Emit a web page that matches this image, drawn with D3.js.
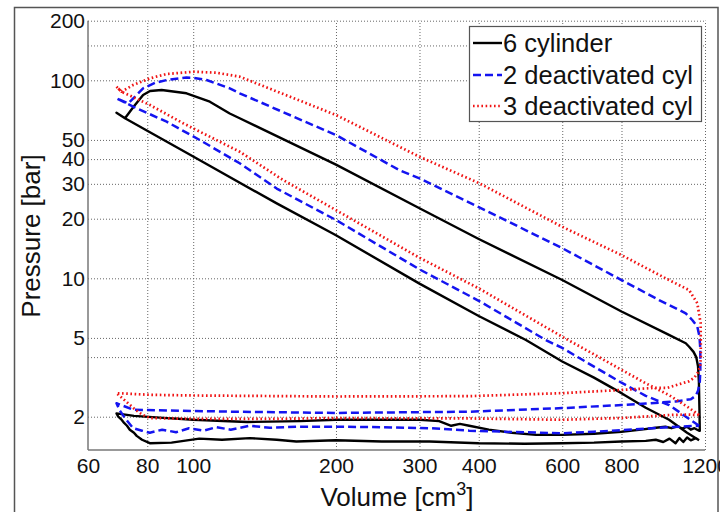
<!DOCTYPE html>
<html><head><meta charset="utf-8">
<script src="https://cdn.jsdelivr.net/npm/d3@7"></script>
<style>
html,body{margin:0;padding:0;background:#fff;}
svg{display:block;font-family:"Liberation Sans",Arial,sans-serif;}
</style></head>
<body>
<svg id="c" width="720" height="512"></svg>
<script>
// ---- data ----
const xTicks = [60, 80, 100, 200, 300, 400, 600, 800, 1200];
const xGrid  = [80, 100, 200, 300, 400, 600, 800, 1200];
const yTicks = [2, 5, 10, 20, 30, 40, 50, 100, 200];
const yGrid  = [2, 4, 5, 10, 20, 30, 40, 50, 100, 150, 200];
const seriesNames = ["6 cylinder", "2 deactivated cyl", "3 deactivated cyl"];

// [volume cm3, pressure bar] in cycle order
const cyl6 = [
 [1166,1.52],[1100,1.66],[1008,1.93],[900,2.22],[800,2.63],[700,3.15],[600,3.8],[503,4.88],[400,6.45],[300,9.4],[200,16.5],[150,23.9],[100,41.2],[80,55.6],[71.8,64.3],[68.9,68.6],
 [71.8,64.3],[75,74],[78.4,84.3],[81.1,88.3],[85.8,89.3],[96.8,86],[108.4,78],[119.4,68],[125.3,64.3],[200,37.5],[300,22.6],[400,15.8],[600,9.8],[800,6.8],[1000,5.23],[1093,4.7],[1111,4.51],[1135,4.25],[1150,4.0],[1160,3.6],[1165,3.0],[1168,2.2],[1170,1.7],
 [1166,1.70],[1140,1.75],[1120,1.72],[1100,1.78],[1075,1.74],[1050,1.79],[1020,1.75],[990,1.78],[945,1.76],[880,1.72],[800,1.68],[700,1.64],[600,1.62],[528,1.62],[470,1.66],[420,1.72],[382,1.80],[365,1.84],[350,1.80],[330,1.90],[300,1.93],[200,1.93],[168,1.90],[130,1.88],[100,1.93],[85,1.98],[75,2.02],[68.9,2.08],
 [69.5,2.0],[70.5,1.94],[71.5,1.86],[72.5,1.80],[73.5,1.72],[75,1.66],[76,1.60],[78,1.53],[81,1.47],[90,1.48],[103,1.55],[115,1.53],[131.6,1.56],[150,1.53],[165,1.50],[200,1.52],[250,1.50],[315,1.50],[400,1.47],[500,1.46],[600,1.47],[700,1.48],[800,1.50],[900,1.51],[945,1.53],[980,1.49],[1010,1.55],[1040,1.47],[1060,1.56],[1080,1.49],[1100,1.57],[1120,1.52],[1147,1.56],[1166,1.52]
];
const deact2 = [
 [1166,1.80],[1008,2.29],[900,2.55],[800,2.97],[700,3.58],[600,4.45],[554,4.88],[400,7.7],[300,11.1],[200,19.7],[150,28.4],[125.3,38.1],[103.3,49.9],[87.9,61.8],[74.7,73.6],[68.9,81.1],
 [73,76.5],[78.4,91.1],[83,97],[87.9,100.3],[96.8,103.2],[100,103],[106.7,100.3],[119.4,91.1],[125.3,86],[200,52.9],[272,35.2],[300,32],[400,22.9],[600,14.2],[800,9.8],[960,7.77],[1093,6.66],[1129,6.14],[1156,5.7],[1168,5.1],[1173,4.4],[1173,3.4],[1170,3.0],
 [1160,2.7],[1147,2.55],[1120,2.45],[1041,2.39],[900,2.33],[800,2.29],[717,2.26],[600,2.21],[382,2.12],[200,2.09],[120,2.12],[74.7,2.17],[68.9,2.34],
 [70,2.15],[72,1.95],[74.7,1.75],[78,1.70],[81,1.66],[86,1.72],[92,1.67],[98,1.75],[105,1.70],[112,1.77],[120,1.72],[131.6,1.80],[145,1.76],[167.7,1.78],[200,1.78],[250,1.77],[315,1.75],[382,1.70],[450,1.68],[600,1.65],[700,1.68],[800,1.71],[900,1.74],[1008,1.77],[1100,1.79],[1166,1.80]
];
const deact3 = [
 [1166,2.04],[1100,2.25],[1008,2.57],[900,2.95],[800,3.45],[717,4.0],[600,5.07],[400,8.9],[300,12.7],[200,22.1],[154.6,31.4],[125.3,43.6],[112,49.9],[95.2,60.7],[81.1,75],[70.6,87.6],[68.9,92.8],
 [70.6,87.6],[74.7,94.7],[81.1,102.4],[87.9,107.6],[100.4,110.5],[112,109.2],[125.3,104.3],[200,66.8],[300,41.1],[400,30.3],[600,18.2],[800,13.1],[1008,9.8],[1111,8.72],[1156,7.48],[1175,5.93],[1176,4.0],[1172,3.6],[1160,3.35],[1140,3.15],[1110,3.02],[1075,2.95],[1000,2.80],[945,2.80],[800,2.73],[600,2.63],[382,2.54],[200,2.53],[100,2.56],[81.1,2.58],[68.9,2.63],
 [72,2.4],[75,2.2],[78,2.05],[81.1,1.97],[100,1.95],[150,1.95],[200,1.97],[300,1.96],[382,1.96],[600,1.93],[800,1.97],[1008,2.04],[1100,2.05],[1166,2.04]
];

// ---- drawing ----
const svg = d3.select("#c");
const L = 88, R = 705, T = 20.7, B = 450;
const x = d3.scaleLog().domain([60, 1200]).range([L, R]);
const y = d3.scaleLog().domain([1.358, 200]).range([B, T]);

svg.append("rect").attr("width",720).attr("height",512).attr("fill","#fff");
// figure frame
svg.append("rect").attr("x",14.5).attr("y",7.5).attr("width",703.5).attr("height",520)
  .attr("fill","none").attr("stroke","#555").attr("stroke-width",1.5);

// grid
const gx = svg.append("g").attr("transform",`translate(0,${B})`)
  .call(d3.axisBottom(x).tickValues(xGrid).tickSize(-(B-T)).tickFormat(""));
const gy = svg.append("g").attr("transform",`translate(${L},0)`)
  .call(d3.axisLeft(y).tickValues(yGrid).tickSize(-(R-L)).tickFormat(""));
[gx, gy].forEach(g => {
  g.select(".domain").remove();
  g.selectAll("line").attr("stroke","#666").attr("stroke-width",1).attr("stroke-dasharray","1,2");
});

// axis lines
svg.append("line").attr("x1",L).attr("x2",L).attr("y1",T).attr("y2",B).attr("stroke","#777").attr("stroke-width",1.5);
svg.append("line").attr("x1",L).attr("x2",R).attr("y1",B).attr("y2",B).attr("stroke","#777").attr("stroke-width",1.5);

// tick labels
const ax = svg.append("g").attr("transform",`translate(0,${B})`)
  .call(d3.axisBottom(x).tickValues(xTicks).tickSize(0).tickPadding(8).tickFormat(d3.format("d")));
const ay = svg.append("g").attr("transform",`translate(${L},0)`)
  .call(d3.axisLeft(y).tickValues(yTicks).tickSize(0).tickPadding(3).tickFormat(d3.format("d")));
[ax, ay].forEach(g => {
  g.select(".domain").remove();
  g.selectAll("text").attr("font-size",21).attr("fill","#111").attr("font-family","Liberation Sans, Arial, sans-serif");
});

// curves
const line = d3.line().x(d => x(d[0])).y(d => y(d[1]));
const styles = [
  {data: cyl6,   color:"#000000", dash:null,      w:2.4},
  {data: deact2, color:"#1414f0", dash:"8,4",     w:2.5},
  {data: deact3, color:"#f01414", dash:"1.6,2.6", w:2.7}
];
const plot = svg.append("g");
styles.forEach(s => {
  plot.append("path").attr("d", line(s.data)).attr("fill","none")
    .attr("stroke", s.color).attr("stroke-width", s.w)
    .attr("stroke-linejoin","round")
    .attr("stroke-dasharray", s.dash);
});

// legend
const lg = svg.append("g");
lg.append("rect").attr("x",469.5).attr("y",26.5).attr("width",232).attr("height",95)
  .attr("fill","#fff").attr("stroke","#555").attr("stroke-width",1.2);
const rowY = [43, 75, 106];
styles.forEach((s,i) => {
  lg.append("line").attr("x1",473).attr("x2",502).attr("y1",rowY[i]).attr("y2",rowY[i])
    .attr("stroke",s.color).attr("stroke-width",s.w).attr("stroke-dasharray",s.dash);
  lg.append("text").attr("x",503).attr("y",rowY[i]).attr("dy","0.35em")
    .attr("font-size",25.5).attr("fill","#111").text(seriesNames[i]);
});

// axis titles
const xt = svg.append("text").attr("x",397).attr("y",506).attr("text-anchor","middle")
  .attr("font-size",26).attr("fill","#111");
xt.append("tspan").text("Volume [cm");
xt.append("tspan").attr("font-size",18).attr("dy",-11).text("3");
xt.append("tspan").attr("dy",11).text("]");
svg.append("text").attr("transform","translate(39.5,236) rotate(-90)")
  .attr("text-anchor","middle").attr("font-size",26).attr("fill","#111").text("Pressure [bar]");
</script>
</body></html>
